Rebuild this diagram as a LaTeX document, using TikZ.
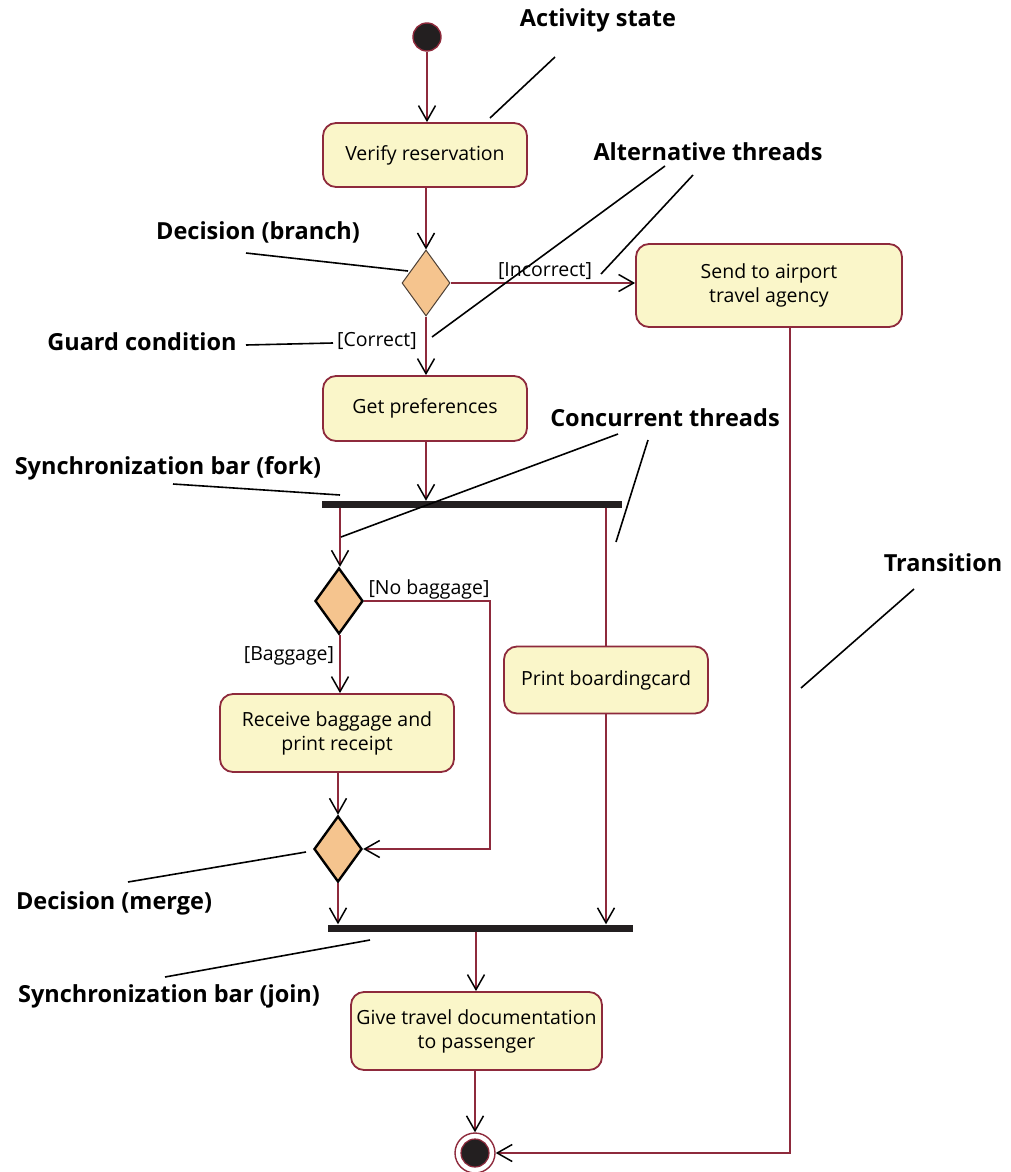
\documentclass[tikz,border=0pt]{standalone}
\usepackage{fontspec}
\setmainfont{Open Sans}
\usetikzlibrary{arrows.meta,shapes.geometric,calc}
\definecolor{flow}{HTML}{8E2A3C}
\definecolor{boxfill}{HTML}{FAF6C9}
\definecolor{decfill}{HTML}{F5C48E}
\definecolor{barcol}{HTML}{231F20}
\tikzset{
  activity/.style={draw=flow, line width=1.8pt, fill=boxfill, rounded corners=13pt,
    align=center, inner sep=0pt, font=\fontsize{19.5}{24}\selectfont},
  decision/.style={diamond, draw=black, line width=2.4pt, fill=decfill, inner sep=0pt,
    minimum width=48pt, minimum height=66pt, aspect=0.73},
  syncbar/.style={rectangle, fill=barcol, inner sep=0pt, minimum height=7pt},
  flowline/.style={draw=flow, line width=1.6pt},
  flowarrow/.style={flowline, -{Straight Barb[length=15pt,width=17pt,line width=1.5pt,color=black]}},
  guard/.style={font=\fontsize{19.5}{24}\selectfont, inner sep=0pt},
  note/.style={font=\bfseries\fontsize{23.5}{28}\selectfont, inner sep=0pt},
  pointer/.style={draw=black, line width=1.6pt},
}
\begin{document}
\begin{tikzpicture}[x=1pt, y=-1pt]
\useasboundingbox (0,0) rectangle (1010,1172);

% start and end states
\node (start) [circle, draw=flow, line width=1.4pt, fill=barcol, minimum size=28pt, inner sep=0pt] at (427,37) {};
\node (final) [circle, draw=flow, line width=1.4pt, fill=white, minimum size=40pt, inner sep=0pt] at (475,1153) {};
\node (finalcore) [circle, draw=flow, line width=1.2pt, fill=barcol, minimum size=28pt, inner sep=0pt] at (final.center) {};

% activities
\node (verify) [activity, minimum width=204pt, minimum height=64pt] at (425,155) {Verify reservation};
\node (send) [activity, minimum width=266pt, minimum height=83pt] at (769,285.5) {Send to airport\\travel agency};
\node (prefs) [activity, minimum width=204pt, minimum height=65pt] at (425,408.5) {Get preferences};
\node (receive) [activity, minimum width=234pt, minimum height=78pt] at (337,733) {Receive baggage and\\print receipt};
\node (print) [activity, minimum width=204pt, minimum height=67pt] at (606,680) {Print boardingcard};
\node (give) [activity, minimum width=251pt, minimum height=78pt] at (476.5,1031) {Give travel documentation\\to passenger};

% decisions
\node (d1) [decision, line width=1pt, draw=barcol!80!decfill] at (426,283) {};
\node (d2) [decision] at (339,601) {};
\node (d3) [decision] at (338,849) {};

% synchronization bars
\node (fork) [syncbar, minimum width=300pt] at (472,504.5) {};
\node (join) [syncbar, minimum width=305pt] at (480.5,928) {};

% helper coordinates for routing
\coordinate (fa) at (340,0);
\coordinate (fb) at (606,0);
\coordinate (nbx) at (490,0);
\coordinate (jx) at (476,0);
\coordinate (tx) at (790,0);

% transitions
\draw[flowarrow] (start) -- (verify.north -| start);
\draw[flowarrow] (verify.south -| d1) -- (d1.north);
\draw[flowarrow] (d1.east) -- (d1.east -| send.west);
\draw[flowarrow] (d1.south) -- (d1.south |- prefs.north);
\draw[flowarrow] (prefs.south -| d1) -- (fork.north -| d1);
\draw[flowarrow] (fork.south -| fa) -- (d2.north -| fa);
\draw[flowline] (fork.south -| fb) -- (print.north -| fb);
\draw[flowarrow] (d2.east) -| (nbx |- d3.east) -- (d3.east);
\draw[flowarrow] (d2.south -| fa) -- (receive.north -| fa);
\draw[flowarrow] (receive.south -| d3) -- (d3.north);
\draw[flowarrow] (d3.south) -- (d3.south |- join.north);
\draw[flowarrow] (print.south -| fb) -- (join.north -| fb);
\draw[flowarrow] (join.south -| jx) -- (give.north -| jx);
\draw[flowarrow] (give.south -| final) -- (final.north);
\draw[flowarrow] (send.south -| tx) |- (final.east);

% guard conditions
\node (gincorrect) [guard] at (545,271) {[Incorrect]};
\node (gcorrect) [guard] at (377,341) {[Correct]};
\node (gnobag) [guard] at (429,589) {[No baggage]};
\node (gbag) [guard] at (289,656) {[Baggage]};

% annotations
\node (nactivity) [note] at (598,20) {Activity state};
\node (nalt) [note] at (708,152) {Alternative threads};
\node (nbranch) [note] at (258,232) {Decision (branch)};
\node (nguard) [note] at (142,342) {Guard condition};
\node (nconc) [note] at (665,418) {Concurrent threads};
\node (nfork) [note] at (168,468) {Synchronization bar (fork)};
\node (ntrans) [note] at (943,563) {Transition};
\node (nmerge) [note] at (114,903) {Decision (merge)};
\node (njoin) [note] at (169,996) {Synchronization bar (join)};

\coordinate (pa1) at (555,57);   \coordinate (pa2) at (490,118);
\coordinate (pb1) at (665,166);  \coordinate (pb2) at (432,337);
\coordinate (pc1) at (693,175);  \coordinate (pc2) at (601,274);
\coordinate (pd1) at (246,253);  \coordinate (pd2) at (408,271);
\coordinate (pe1) at (246,345);  \coordinate (pe2) at (333,343);
\coordinate (pf1) at (618,434);  \coordinate (pf2) at (341,537);
\coordinate (pg1) at (648,440);  \coordinate (pg2) at (616,542);
\coordinate (ph1) at (173,484);  \coordinate (ph2) at (340,495);
\coordinate (pi1) at (914,589);  \coordinate (pi2) at (801,688);
\coordinate (pj1) at (128,882);  \coordinate (pj2) at (306,852);
\coordinate (pk1) at (165,977);  \coordinate (pk2) at (370,940);

\draw[pointer] (pa1) -- (pa2);
\draw[pointer] (pb1) -- (pb2);
\draw[pointer] (pc1) -- (pc2);
\draw[pointer] (pd1) -- (pd2);
\draw[pointer] (pe1) -- (pe2);
\draw[pointer] (pf1) -- (pf2);
\draw[pointer] (pg1) -- (pg2);
\draw[pointer] (ph1) -- (ph2);
\draw[pointer] (pi1) -- (pi2);
\draw[pointer] (pj1) -- (pj2);
\draw[pointer] (pk1) -- (pk2);
\end{tikzpicture}
\end{document}
